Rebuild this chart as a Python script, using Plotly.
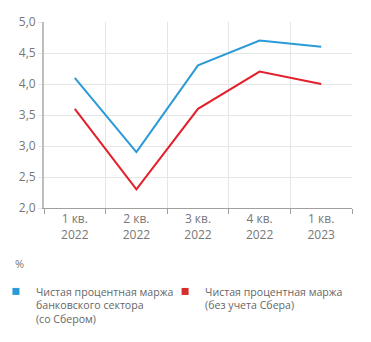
import plotly.graph_objects as go

categories = ["1 кв.<br>2022", "2 кв.<br>2022", "3 кв.<br>2022", "4 кв.<br>2022", "1 кв.<br>2023"]
nim_total = [4.1, 2.9, 4.3, 4.7, 4.6]
nim_ex_sber = [3.6, 2.3, 3.6, 4.2, 4.0]
name_total = "Чистая процентная маржа<br>банковского сектора<br>(со Сбером)"
name_ex_sber = "Чистая процентная маржа<br>(без учета Сбера)"
y_ticks = [2.0, 2.5, 3.0, 3.5, 4.0, 4.5, 5.0]
y_tick_labels = ["2,0", "2,5", "3,0", "3,5", "4,0", "4,5", "5,0"]

BLUE = "#2b9ad6"
RED = "#e3202a"
FONT = "Open Sans, DejaVu Sans, sans-serif"

fig = go.Figure()
fig.add_trace(go.Scatter(x=categories, y=nim_total, mode="lines",
                         line=dict(color=BLUE, width=2), showlegend=False))
fig.add_trace(go.Scatter(x=categories, y=nim_ex_sber, mode="lines",
                         line=dict(color=RED, width=2), showlegend=False))
# legend entries (square markers)
fig.add_trace(go.Scatter(x=[None], y=[None], mode="markers", name=name_total,
                         marker=dict(symbol="square", size=7, color=BLUE),
                         legend="legend"))
fig.add_trace(go.Scatter(x=[None], y=[None], mode="markers", name=name_ex_sber,
                         marker=dict(symbol="square", size=7, color="#d42e2e"),
                         legend="legend2"))

legend_common = dict(yref="container", xanchor="left", yanchor="top",
                     valign="top", font=dict(size=10.6, color="#666666"),
                     itemclick=False, bgcolor="rgba(0,0,0,0)")

fig.update_layout(
    width=371, height=342,
    margin=dict(l=44, r=19, t=22, b=134, autoexpand=False),
    paper_bgcolor="white", plot_bgcolor="white",
    font=dict(family=FONT, size=12, color="#777777"),
    xaxis=dict(type="category", categoryorder="array", categoryarray=categories,
               tickson="boundaries", showgrid=True, gridcolor="#e6e6e6", gridwidth=1,
               showline=True, linecolor="#a0a0a0", linewidth=1,
               ticks="outside", ticklen=5, tickcolor="#a0a0a0",
               range=[-0.5, 4.5], tickfont=dict(size=12, color="#777777")),
    yaxis=dict(range=[2.0, 5.0], tickvals=y_ticks, ticktext=y_tick_labels,
               showgrid=True, gridcolor="#e6e6e6", gridwidth=1,
               showline=True, linecolor="#bdbdbd", linewidth=2,
               ticks="outside", ticklen=4, tickcolor="#e6e6e6",
               zeroline=False, tickfont=dict(size=12, color="#777777")),
    legend=dict(xref="paper", x=-0.156, y=0.187, **legend_common),
    legend2=dict(xref="container", x=0.445, y=0.187, **legend_common),
    annotations=[dict(text="%", xref="paper", yref="paper", x=-0.08, y=-0.3,
                      xanchor="center", yanchor="middle", showarrow=False,
                      font=dict(size=11, color="#777777"))],
)

fig.write_html("out.html")
